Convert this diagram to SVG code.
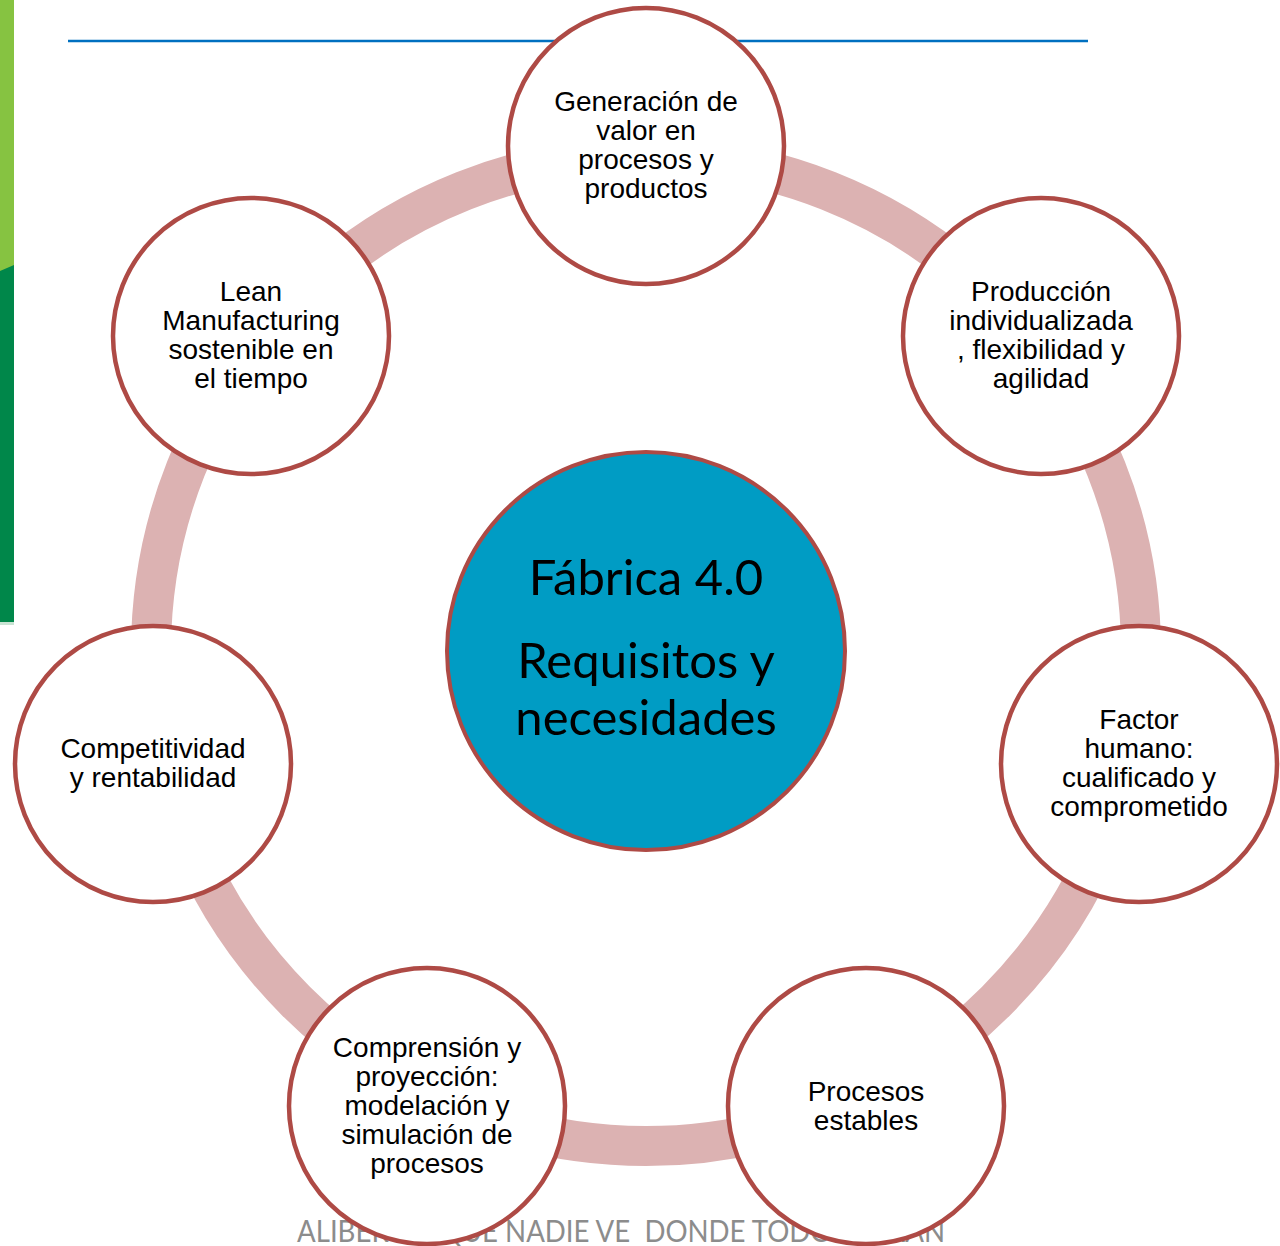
<svg xmlns="http://www.w3.org/2000/svg" width="1280" height="1246" viewBox="0 0 1280 1246">
<style>
.node{fill:#ffffff;stroke:#AE4A45;stroke-width:4.5}
.lbl{font-family:"Liberation Sans",Arial,sans-serif;font-size:28px;fill:#000000;text-anchor:middle}
.ctr{font-family:Lato,"Open Sans",sans-serif;font-size:49px;fill:#000000;text-anchor:middle}
.foot{font-family:Lato,"Open Sans",sans-serif;font-size:30px;fill:#8C8C8C}
</style>
<rect x="0" y="0" width="1280" height="1246" fill="#ffffff"/>
<g id="sidebar">
<rect x="0" y="0" width="14" height="272" fill="#86C341"/>
<polygon points="0,271 14,265 14,622 0,622" fill="#00874A"/>
<rect x="0" y="622" width="14" height="3" fill="#C9E3D3"/>
</g>
<line id="topline" x1="68" y1="41" x2="1088" y2="41" stroke="#0070C0" stroke-width="2.5"/>
<g id="connectors">
<circle cx="646" cy="651" r="495" fill="none" stroke="#DCB2B2" stroke-width="40"/>
</g>
<text id="footer" class="foot" x="297" y="1242" textLength="648" lengthAdjust="spacingAndGlyphs" xml:space="preserve">ALIBERTO: QUE NADIE VE  DONDE TODOS MIRAN</text>
<g id="n1">
<circle class="node" cx="646" cy="146" r="138"/>
<text class="lbl" x="646" y="111">Generación de</text>
<text class="lbl" x="646" y="140">valor en</text>
<text class="lbl" x="646" y="169">procesos y</text>
<text class="lbl" x="646" y="198">productos</text>
</g>
<g id="n2">
<circle class="node" cx="1041" cy="336" r="138"/>
<text class="lbl" x="1041" y="301">Producción</text>
<text class="lbl" x="1041" y="330">individualizada</text>
<text class="lbl" x="1041" y="359">, flexibilidad y</text>
<text class="lbl" x="1041" y="388">agilidad</text>
</g>
<g id="n3">
<circle class="node" cx="1139" cy="764" r="138"/>
<text class="lbl" x="1139" y="729">Factor</text>
<text class="lbl" x="1139" y="758">humano:</text>
<text class="lbl" x="1139" y="787">cualificado y</text>
<text class="lbl" x="1139" y="816">comprometido</text>
</g>
<g id="n4">
<circle class="node" cx="866" cy="1106" r="138"/>
<text class="lbl" x="866" y="1101">Procesos</text>
<text class="lbl" x="866" y="1130">estables</text>
</g>
<g id="n5">
<circle class="node" cx="427" cy="1106" r="138"/>
<text class="lbl" x="427" y="1057">Comprensión y</text>
<text class="lbl" x="427" y="1086">proyección:</text>
<text class="lbl" x="427" y="1115">modelación y</text>
<text class="lbl" x="427" y="1144">simulación de</text>
<text class="lbl" x="427" y="1173">procesos</text>
</g>
<g id="n6">
<circle class="node" cx="153" cy="764" r="138"/>
<text class="lbl" x="153" y="758">Competitividad</text>
<text class="lbl" x="153" y="787">y rentabilidad</text>
</g>
<g id="n7">
<circle class="node" cx="251" cy="336" r="138"/>
<text class="lbl" x="251" y="301">Lean</text>
<text class="lbl" x="251" y="330">Manufacturing</text>
<text class="lbl" x="251" y="359">sostenible en</text>
<text class="lbl" x="251" y="388">el tiempo</text>
</g>
<g id="center">
<circle cx="646" cy="651" r="199" fill="#009CC4" stroke="#AE4A45" stroke-width="4"/>
<text class="ctr" x="646" y="595">Fábrica 4.0</text>
<text class="ctr" x="646" y="678">Requisitos y</text>
<text class="ctr" x="646" y="735">necesidades</text>
</g>
</svg>
